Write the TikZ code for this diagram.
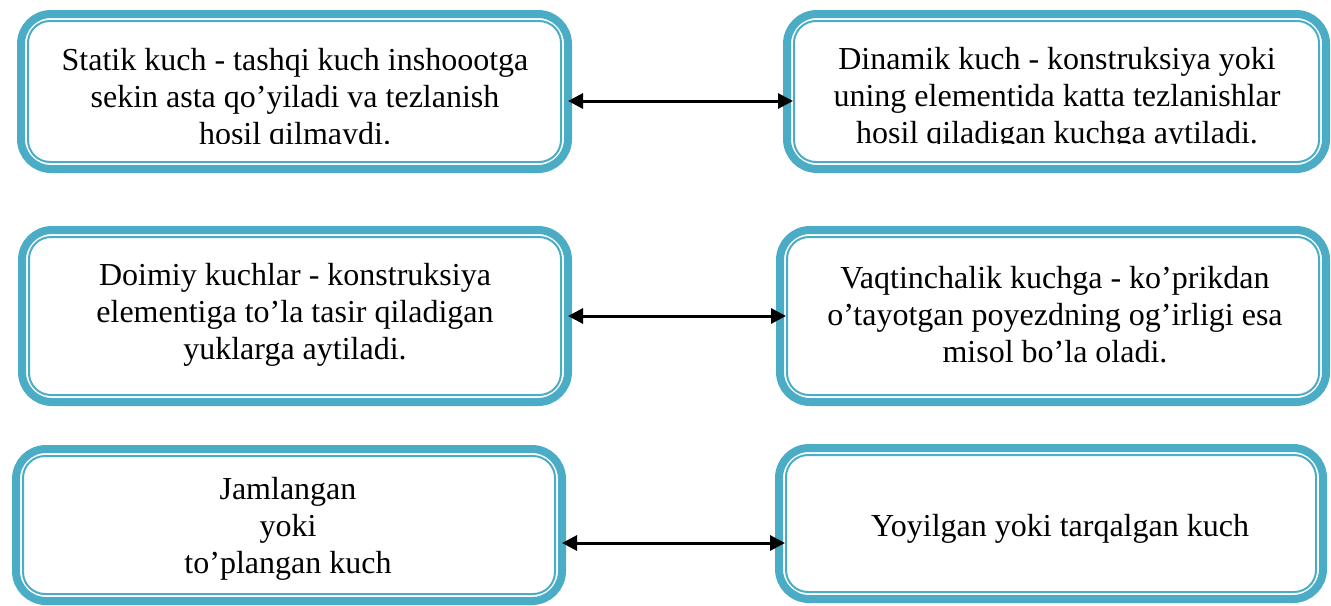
\documentclass[tikz,border=0pt]{standalone}
\usepackage{fontspec}
\setmainfont{Liberation Serif}
\usetikzlibrary{arrows.meta}
\definecolor{boxblue}{HTML}{4BACC6}

\begin{document}
\begin{tikzpicture}[
  box/.style={draw=boxblue,line width=4pt,rounded corners=15pt,outer sep=0pt,minimum height=#1},
  box/.default=77.5pt,
  innerline/.style={draw=boxblue,line width=1pt,rounded corners=11pt},
  txt/.style={align=center,font=\fontsize{16}{18.5}\selectfont},
  link/.style={<->,>={Triangle[length=7.5pt,width=7.5pt]},line width=1.5pt,shorten >=-3pt}]
  \useasboundingbox (0,0) rectangle (665.5pt,-302.5pt);
  \node [box,minimum width=273.5pt] (statik) at (147.25pt,-45.75pt) {};
  \node [box,minimum width=269.5pt] (dinamik) at (528.25pt,-45.75pt) {};
  \node [box=86pt,minimum width=273pt] (doimiy) at (147.5pt,-158pt) {};
  \node [box=86pt,minimum width=273pt] (vaqtincha) at (526.5pt,-158pt) {};
  \node [box=76pt,minimum width=273pt] (jamlangan) at (144.5pt,-262.5pt) {};
  \node [box=75.5pt,minimum width=272pt] (yoyilgan) at (525.5pt,-261.75pt) {};
  \foreach \n in {statik,dinamik,doimiy,vaqtincha,jamlangan,yoyilgan}
    \draw [innerline] ([shift={(3.5pt,-3.5pt)}]\n.north west) rectangle ([shift={(-3.5pt,3.5pt)}]\n.south east);
  \begin{scope}
    \clip (0,-2pt) rectangle (665.5pt,-71.5pt);
    \node [txt] (statiktxt) at (147.5pt,-50pt) {Statik kuch - tashqi kuch inshoootga\\sekin asta qo’yiladi va tezlanish\\hosil qilmaydi.};
    \node [txt] (dinamiktxt) at (528.5pt,-49.5pt) {Dinamik kuch - konstruksiya yoki\\uning elementida katta tezlanishlar\\hosil qiladigan kuchga aytiladi.};
  \end{scope}
  \node [txt] (doimiytxt) at (147.5pt,-157.5pt) {Doimiy kuchlar - konstruksiya\\elementiga to’la tasir qiladigan\\yuklarga aytiladi.};
  \node [txt] (vaqtinchatxt) at (527.5pt,-157.5pt) {Vaqtinchalik kuchga - ko’prikdan\\o’tayotgan poyezdning og’irligi esa\\misol bo’la oladi.};
  \node [txt] (jamlangantxt) at (144pt,-264.5pt) {Jamlangan\\yoki\\to’plangan kuch};
  \node [txt] (yoyilgantxt) at (530pt,-264.5pt) {Yoyilgan yoki tarqalgan kuch};
  \draw [link] ([yshift=-4.75pt]statik.east) -- ([yshift=-4.75pt]dinamik.west);
  \draw [link] (doimiy.east) -- (vaqtincha.west);
  \draw [link] ([yshift=-9pt]jamlangan.east) -- ([yshift=-9.75pt]yoyilgan.west);
\end{tikzpicture}
\end{document}
